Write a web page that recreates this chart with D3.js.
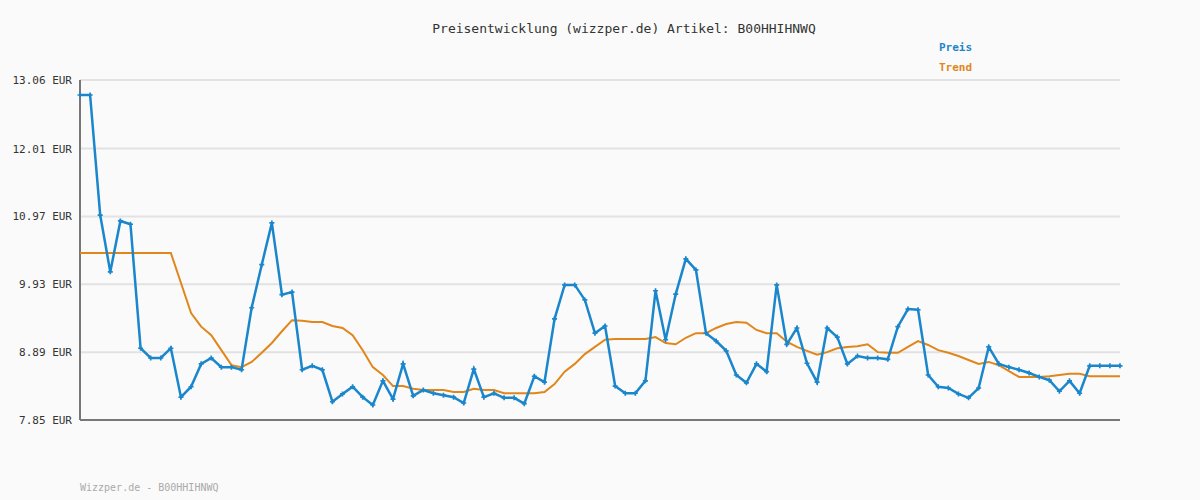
<!DOCTYPE html>
<html>
<head>
<meta charset="utf-8">
<script src="https://cdn.jsdelivr.net/npm/d3@7"></script>
<style>
  body { margin: 0; background: #fafafa; }
  svg { font-family: "DejaVu Sans Mono", monospace; }
</style>
</head>
<body>
<svg id="chart" width="1200" height="500"></svg>
<script>
// prices (EUR)
const preis = [12.83,12.83,10.99,10.12,10.90,10.85,8.95,8.80,8.80,8.95,
  8.20,8.36,8.71,8.80,8.66,8.66,8.62,9.57,10.23,10.87,
  9.77,9.81,8.62,8.68,8.62,8.13,8.25,8.36,8.20,8.08,
  8.45,8.17,8.71,8.22,8.31,8.26,8.23,8.20,8.11,8.63,
  8.20,8.26,8.19,8.19,8.10,8.52,8.43,9.40,9.92,9.92,
  9.69,9.18,9.29,8.37,8.26,8.26,8.45,9.83,9.08,9.78,
  10.32,10.15,9.18,9.06,8.91,8.54,8.42,8.71,8.59,9.92,
  9.01,9.26,8.72,8.43,9.26,9.12,8.71,8.83,8.80,8.80,
  8.78,9.28,9.55,9.54,8.54,8.36,8.34,8.25,8.19,8.34,
  8.97,8.71,8.66,8.62,8.57,8.51,8.46,8.29,8.45,8.26,
  8.68,8.68,8.68,8.68];
const trend = [10.41,10.41,10.41,10.41,10.41,10.41,10.41,10.41,10.41,10.41,
  9.95,9.49,9.28,9.15,8.92,8.69,8.66,8.74,8.88,9.03,
  9.21,9.38,9.37,9.35,9.35,9.29,9.26,9.15,8.92,8.66,
  8.54,8.37,8.37,8.33,8.31,8.31,8.31,8.28,8.28,8.33,
  8.31,8.31,8.26,8.26,8.26,8.26,8.28,8.40,8.59,8.71,
  8.86,8.97,9.08,9.09,9.09,9.09,9.09,9.12,9.03,9.01,
  9.11,9.18,9.18,9.26,9.32,9.35,9.34,9.23,9.18,9.18,
  9.05,8.97,8.91,8.85,8.89,8.95,8.97,8.98,9.01,8.89,
  8.88,8.88,8.97,9.06,9.00,8.92,8.88,8.83,8.77,8.71,
  8.74,8.69,8.60,8.51,8.51,8.51,8.52,8.54,8.56,8.56,
  8.52,8.52,8.52,8.52];
const yTicks = [7.85, 8.89, 9.93, 10.97, 12.01, 13.06];
const title = "Preisentwicklung (wizzper.de) Artikel: B00HHIHNWQ";
const footer = "Wizzper.de - B00HHIHNWQ";

const svg = d3.select("#chart");
const mLeft = 80, mRight = 1120, mTop = 80, mBottom = 420;
const blue = "#1a86cc", orange = "#e0861a";

const x = d3.scaleLinear().domain([0, preis.length - 1]).range([mLeft, mRight]);
const y = d3.scaleLinear().domain([7.85, 13.06]).range([mBottom, mTop]);

svg.append("rect").attr("width", 1200).attr("height", 500).attr("fill", "#fafafa");

// grid
svg.append("g").selectAll("line").data(yTicks.slice(1)).join("line")
  .attr("x1", mLeft).attr("x2", mRight)
  .attr("y1", d => y(d)).attr("y2", d => y(d))
  .attr("stroke", "#e2e2e2").attr("stroke-width", 2);

// y axis labels
svg.append("g").selectAll("text").data(yTicks).join("text")
  .attr("x", 72).attr("y", d => y(d) + 4)
  .attr("text-anchor", "end").attr("font-size", 11).attr("fill", "#333")
  .text(d => d.toFixed(2) + " EUR");

// axes lines
svg.append("line").attr("x1", mLeft).attr("x2", mLeft).attr("y1", mTop).attr("y2", mBottom)
  .attr("stroke", "#777").attr("stroke-width", 2);
svg.append("line").attr("x1", mLeft).attr("x2", mRight).attr("y1", mBottom).attr("y2", mBottom)
  .attr("stroke", "#777").attr("stroke-width", 2);

const line = d3.line().x((d, i) => x(i)).y(d => y(d));

svg.append("path").datum(trend).attr("d", line)
  .attr("fill", "none").attr("stroke", orange).attr("stroke-width", 2);
svg.append("path").datum(preis).attr("d", line)
  .attr("fill", "none").attr("stroke", blue).attr("stroke-width", 2.5);

// markers
svg.append("g").selectAll("path").data(preis).join("path")
  .attr("transform", (d, i) => `translate(${x(i)},${y(d)})`)
  .attr("d", d3.symbol(d3.symbolCross, 14))
  .attr("fill", blue);

// title, legend, footer
svg.append("text").attr("x", 624).attr("y", 33).attr("text-anchor", "middle")
  .attr("font-size", 13).attr("fill", "#333").text(title);
svg.append("text").attr("x", 939).attr("y", 51).attr("font-size", 11)
  .attr("font-weight", "bold").attr("fill", blue).text("Preis");
svg.append("text").attr("x", 939).attr("y", 71).attr("font-size", 11)
  .attr("font-weight", "bold").attr("fill", orange).text("Trend");
svg.append("text").attr("x", 80).attr("y", 491).attr("font-size", 10)
  .attr("fill", "#aaa").text(footer);
</script>
</body>
</html>
